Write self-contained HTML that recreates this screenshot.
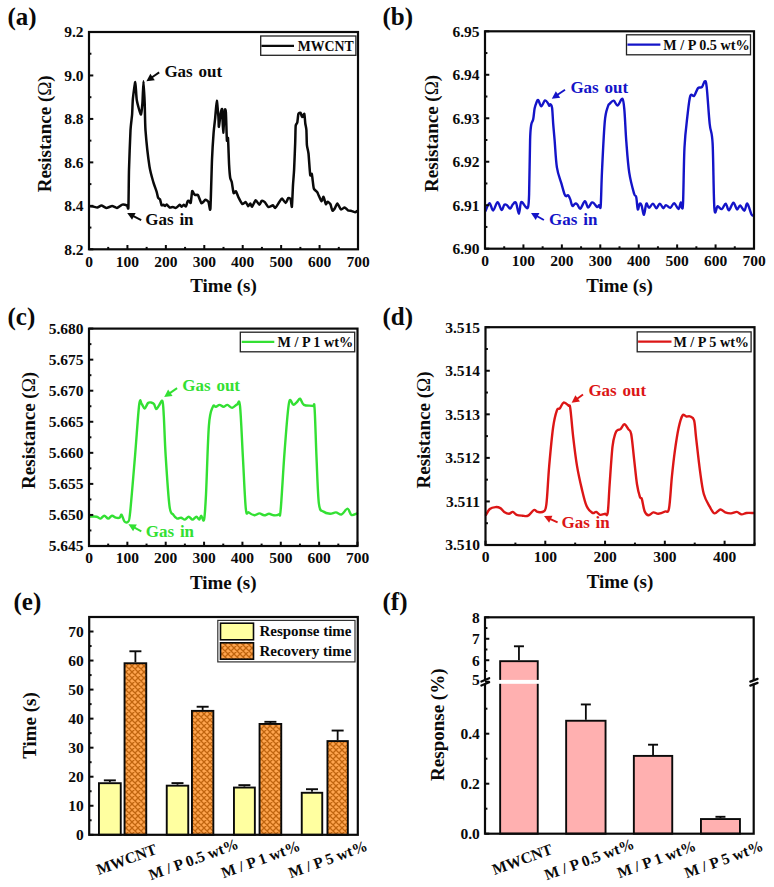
<!DOCTYPE html>
<html><head><meta charset="utf-8"><title>Figure</title>
<style>
html,body{margin:0;padding:0;background:#fff;}
body{width:774px;height:887px;overflow:hidden;}
svg{display:block;font-family:"Liberation Serif", serif;font-weight:bold;}
</style></head><body>
<svg width="774" height="887" viewBox="0 0 774 887">
<defs>
<pattern id="hatch" patternUnits="userSpaceOnUse" width="6" height="6">
<rect width="6" height="6" fill="#ffa54f"/>
<path d="M-1.5,1.5 L1.5,-1.5 M0,6 L6,0 M4.5,7.5 L7.5,4.5 M-1.5,4.5 L1.5,7.5 M0,0 L6,6 M4.5,-1.5 L7.5,1.5" stroke="#c0650f" stroke-width="1.3"/>
</pattern>
</defs>
<rect width="774" height="887" fill="#fff"/>
<text x="7.5" y="25.2" font-size="25" text-anchor="start" fill="#0a0a0a">(a)</text>
<text x="382.5" y="25.2" font-size="25" text-anchor="start" fill="#0a0a0a">(b)</text>
<text x="7.5" y="325.2" font-size="25" text-anchor="start" fill="#0a0a0a">(c)</text>
<text x="382.5" y="324.8" font-size="25" text-anchor="start" fill="#0a0a0a">(d)</text>
<text x="13.5" y="610.2" font-size="25" text-anchor="start" fill="#0a0a0a">(e)</text>
<text x="382.5" y="610.2" font-size="25" text-anchor="start" fill="#0a0a0a">(f)</text>
<path d="M89.5,206.3 C89.85,206.32 92.22,206.37 93,206.5 C93.78,206.63 96.45,207.7 97.3,207.6 C98.15,207.5 100.61,205.47 101.5,205.5 C102.39,205.53 105.13,207.84 106.2,207.9 C107.27,207.96 111.13,206.1 112.2,206.1 C113.27,206.1 115.89,208.05 116.9,207.9 C117.91,207.75 121.29,204.84 122.3,204.6 C123.31,204.36 126.39,205.23 127,205.5 C127.61,205.77 128.2,210.88 128.4,207.3 C128.6,203.72 128.79,177.4 129,169.7 C129.21,162 130.19,135.82 130.5,130.3 C130.81,124.78 131.86,117.66 132.1,114.5 C132.34,111.34 132.58,101.94 132.9,98.7 C133.22,95.46 134.91,81.94 135.3,82.1 C135.69,82.26 136.25,97.06 136.8,100.3 C137.35,103.54 140.24,114.19 140.8,114.5 C141.36,114.81 142.13,106.72 142.4,103.4 C142.67,100.08 143.27,81.3 143.5,81.3 C143.73,81.3 144.5,98.5 144.7,103.4 C144.9,108.3 145.02,123.98 145.5,130.3 C145.98,136.62 148.71,161.39 149.5,166.6 C150.29,171.81 152.69,179.9 153.4,182.4 C154.11,184.9 156.13,190.06 156.6,191.6 C157.07,193.14 157.76,197.02 158.1,197.8 C158.44,198.58 159.65,198.66 160,199.4 C160.35,200.14 161.25,204.66 161.6,205.2 C161.95,205.74 163.15,204.72 163.5,204.8 C163.85,204.88 164.79,206.04 165.1,206 C165.41,205.96 166.14,204.25 166.6,204.4 C167.06,204.55 169.08,207.23 169.7,207.5 C170.32,207.77 172.18,207.06 172.8,207.1 C173.42,207.14 175.2,208.13 175.9,207.9 C176.6,207.67 179.22,204.92 179.8,204.8 C180.38,204.68 181.31,206.7 181.7,206.7 C182.09,206.7 183.27,204.83 183.7,204.8 C184.13,204.77 185.61,206.75 186,206.4 C186.39,206.05 187.29,201.85 187.6,201.3 C187.91,200.75 188.79,200.74 189.1,200.9 C189.41,201.06 190.39,203.87 190.7,202.9 C191.01,201.93 191.89,192.13 192.2,191.2 C192.51,190.27 193.49,193.21 193.8,193.6 C194.11,193.99 194.88,194.95 195.3,195.1 C195.72,195.25 197.38,194.28 198,195.1 C198.62,195.92 200.76,202.83 201.5,203.3 C202.24,203.77 204.7,199.92 205.4,199.8 C206.1,199.68 208,201.21 208.5,202.1 C209,202.99 210.05,212.95 210.4,208.7 C210.75,204.45 211.68,167.19 212,159.6 C212.32,152.01 213.28,136.98 213.6,132.8 C213.92,128.62 214.88,121.01 215.2,117.8 C215.52,114.59 216.48,100.8 216.8,100.7 C217.12,100.6 218.19,114.18 218.4,116.8 C218.61,119.42 218.69,127.12 218.9,126.9 C219.11,126.68 220.18,116.36 220.5,114.6 C220.82,112.84 221.83,107.48 222.1,109.3 C222.37,111.12 222.93,132.7 223.2,132.8 C223.47,132.9 224.53,112.33 224.8,110.3 C225.07,108.27 225.69,109.5 225.9,112.5 C226.11,115.5 226.69,137.73 226.9,140.3 C227.11,142.87 227.78,135.74 228,138.2 C228.22,140.66 228.88,160.94 229.1,164.9 C229.32,168.86 229.93,176.07 230.2,177.8 C230.47,179.53 231.46,180.67 231.8,182.2 C232.14,183.73 233.19,192.19 233.6,193.1 C234.01,194.01 235.4,190.85 235.9,191.3 C236.4,191.75 237.97,196.34 238.6,197.6 C239.23,198.86 241.48,203.45 242.2,203.9 C242.92,204.35 245.21,201.87 245.8,202.1 C246.39,202.33 247.65,206.06 248.1,206.2 C248.55,206.34 249.9,203.45 250.3,203.5 C250.7,203.55 251.56,207.02 252.1,206.7 C252.64,206.38 254.97,200.49 255.7,200.3 C256.43,200.11 258.81,204.75 259.4,204.8 C259.99,204.85 261.06,201.07 261.6,200.8 C262.14,200.53 264.12,201.47 264.8,202.1 C265.48,202.73 267.59,206.78 268.4,207.1 C269.21,207.42 272.22,205.21 272.9,205.3 C273.58,205.39 274.56,208.32 275.2,208 C275.84,207.68 278.62,203.05 279.3,202.1 C279.98,201.15 281.37,198.41 282,198.5 C282.63,198.59 284.97,203.04 285.6,203 C286.23,202.96 287.8,198.5 288.3,198.1 C288.8,197.7 290.24,198.14 290.6,199 C290.96,199.86 291.66,208.1 291.9,206.7 C292.14,205.3 292.78,188.71 293,185 C293.22,181.29 293.88,173.82 294.1,169.6 C294.32,165.38 295.04,147.19 295.2,142.8 C295.36,138.41 295.49,127.73 295.7,125.7 C295.91,123.67 297.03,123.68 297.3,122.5 C297.57,121.32 298.08,114.87 298.4,113.9 C298.72,112.93 300.13,112.48 300.5,112.8 C300.87,113.12 301.72,116.99 302.1,117.1 C302.48,117.21 303.98,113.26 304.3,113.9 C304.62,114.54 305.09,121.89 305.3,123.5 C305.51,125.11 306.24,127.85 306.4,130 C306.56,132.15 306.69,142.65 306.9,145 C307.11,147.35 308.17,150.51 308.5,153.5 C308.83,156.49 309.87,172.86 310.2,174.9 C310.53,176.94 311.54,173.26 311.8,173.9 C312.06,174.54 312.59,179.81 312.8,181.3 C313.01,182.79 313.47,187.73 313.9,188.8 C314.33,189.87 316.63,191.36 317.1,192 C317.57,192.64 318.16,194.27 318.6,195.2 C319.04,196.13 321.01,201.13 321.5,201.3 C321.99,201.47 323.06,196.61 323.5,196.9 C323.94,197.19 325.49,203.72 325.9,204.2 C326.31,204.68 327.15,201.7 327.6,201.7 C328.05,201.7 329.92,203.3 330.4,204.2 C330.88,205.1 331.95,210.29 332.4,210.7 C332.85,211.11 334.41,209.03 334.9,208.3 C335.39,207.57 336.69,203.28 337.3,203.4 C337.91,203.52 340.27,209.1 341,209.5 C341.73,209.9 343.91,207.32 344.6,207.4 C345.29,207.48 347.16,209.93 347.9,210.3 C348.64,210.67 351.27,210.9 352,211.1 C352.73,211.3 354.7,212.31 355.2,212.3 C355.7,212.29 356.82,211.13 357,211" fill="none" stroke="#0a0a0a" stroke-width="2.5" stroke-linejoin="round" stroke-linecap="round"/>
<rect x="89" y="32" width="269" height="217.3" fill="none" stroke="#0a0a0a" stroke-width="2.2"/>
<line x1="89" y1="249.3" x2="93.3" y2="249.3" stroke="#0a0a0a" stroke-width="2.0"/>
<line x1="89" y1="205.84" x2="93.3" y2="205.84" stroke="#0a0a0a" stroke-width="2.0"/>
<line x1="89" y1="162.38" x2="93.3" y2="162.38" stroke="#0a0a0a" stroke-width="2.0"/>
<line x1="89" y1="118.92" x2="93.3" y2="118.92" stroke="#0a0a0a" stroke-width="2.0"/>
<line x1="89" y1="75.46" x2="93.3" y2="75.46" stroke="#0a0a0a" stroke-width="2.0"/>
<line x1="89" y1="32" x2="93.3" y2="32" stroke="#0a0a0a" stroke-width="2.0"/>
<line x1="89" y1="227.57" x2="91.4" y2="227.57" stroke="#0a0a0a" stroke-width="2.0"/>
<line x1="89" y1="184.11" x2="91.4" y2="184.11" stroke="#0a0a0a" stroke-width="2.0"/>
<line x1="89" y1="140.65" x2="91.4" y2="140.65" stroke="#0a0a0a" stroke-width="2.0"/>
<line x1="89" y1="97.19" x2="91.4" y2="97.19" stroke="#0a0a0a" stroke-width="2.0"/>
<line x1="89" y1="53.73" x2="91.4" y2="53.73" stroke="#0a0a0a" stroke-width="2.0"/>
<text x="83.5" y="254.6" font-size="15.5" text-anchor="end" fill="#0a0a0a">8.2</text>
<text x="83.5" y="211.14" font-size="15.5" text-anchor="end" fill="#0a0a0a">8.4</text>
<text x="83.5" y="167.68" font-size="15.5" text-anchor="end" fill="#0a0a0a">8.6</text>
<text x="83.5" y="124.22" font-size="15.5" text-anchor="end" fill="#0a0a0a">8.8</text>
<text x="83.5" y="80.76" font-size="15.5" text-anchor="end" fill="#0a0a0a">9.0</text>
<text x="83.5" y="37.3" font-size="15.5" text-anchor="end" fill="#0a0a0a">9.2</text>
<line x1="89" y1="249.3" x2="89" y2="245" stroke="#0a0a0a" stroke-width="2.0"/>
<line x1="127.43" y1="249.3" x2="127.43" y2="245" stroke="#0a0a0a" stroke-width="2.0"/>
<line x1="165.86" y1="249.3" x2="165.86" y2="245" stroke="#0a0a0a" stroke-width="2.0"/>
<line x1="204.29" y1="249.3" x2="204.29" y2="245" stroke="#0a0a0a" stroke-width="2.0"/>
<line x1="242.71" y1="249.3" x2="242.71" y2="245" stroke="#0a0a0a" stroke-width="2.0"/>
<line x1="281.14" y1="249.3" x2="281.14" y2="245" stroke="#0a0a0a" stroke-width="2.0"/>
<line x1="319.57" y1="249.3" x2="319.57" y2="245" stroke="#0a0a0a" stroke-width="2.0"/>
<line x1="358" y1="249.3" x2="358" y2="245" stroke="#0a0a0a" stroke-width="2.0"/>
<line x1="108.21" y1="249.3" x2="108.21" y2="246.9" stroke="#0a0a0a" stroke-width="2.0"/>
<line x1="146.64" y1="249.3" x2="146.64" y2="246.9" stroke="#0a0a0a" stroke-width="2.0"/>
<line x1="185.07" y1="249.3" x2="185.07" y2="246.9" stroke="#0a0a0a" stroke-width="2.0"/>
<line x1="223.5" y1="249.3" x2="223.5" y2="246.9" stroke="#0a0a0a" stroke-width="2.0"/>
<line x1="261.93" y1="249.3" x2="261.93" y2="246.9" stroke="#0a0a0a" stroke-width="2.0"/>
<line x1="300.36" y1="249.3" x2="300.36" y2="246.9" stroke="#0a0a0a" stroke-width="2.0"/>
<line x1="338.79" y1="249.3" x2="338.79" y2="246.9" stroke="#0a0a0a" stroke-width="2.0"/>
<text x="89" y="266.5" font-size="15.5" text-anchor="middle" fill="#0a0a0a">0</text>
<text x="127.43" y="266.5" font-size="15.5" text-anchor="middle" fill="#0a0a0a">100</text>
<text x="165.86" y="266.5" font-size="15.5" text-anchor="middle" fill="#0a0a0a">200</text>
<text x="204.29" y="266.5" font-size="15.5" text-anchor="middle" fill="#0a0a0a">300</text>
<text x="242.71" y="266.5" font-size="15.5" text-anchor="middle" fill="#0a0a0a">400</text>
<text x="281.14" y="266.5" font-size="15.5" text-anchor="middle" fill="#0a0a0a">500</text>
<text x="319.57" y="266.5" font-size="15.5" text-anchor="middle" fill="#0a0a0a">600</text>
<text x="358" y="266.5" font-size="15.5" text-anchor="middle" fill="#0a0a0a">700</text>
<text x="223.5" y="292.3" font-size="19" text-anchor="middle" fill="#0a0a0a">Time (s)</text>
<text transform="translate(50.7,133.8) rotate(-90)" font-size="19" text-anchor="middle" fill="#0a0a0a">Resistance (<tspan font-weight="normal">Ω</tspan>)</text>
<rect x="260.7" y="36" width="95.2" height="19.3" fill="#fff" stroke="#222" stroke-width="1.3"/>
<line x1="261.4" y1="45.9" x2="294" y2="45.9" stroke="#0a0a0a" stroke-width="2.2"/>
<text x="297.8" y="51" font-size="13.8" text-anchor="start" fill="#0a0a0a">MWCNT</text>
<text x="164.4" y="76.5" font-size="17" text-anchor="start" fill="#0a0a0a" word-spacing="1.5">Gas out</text>
<line x1="159.2" y1="72.4" x2="151.76" y2="77.52" stroke="#0a0a0a" stroke-width="1.9"/>
<polygon points="146.4,81.2 150.37,73.74 154.79,80.16" fill="#0a0a0a"/>
<text x="145.3" y="225.3" font-size="17" text-anchor="start" fill="#0a0a0a" word-spacing="1.5">Gas in</text>
<line x1="141.2" y1="220.2" x2="132.96" y2="215.91" stroke="#0a0a0a" stroke-width="1.9"/>
<polygon points="127.2,212.9 135.65,212.91 132.05,219.83" fill="#0a0a0a"/>
<path d="M485.5,211 C486.17,209.68 488.23,203.18 489.5,203.1 C490.77,203.02 491.75,210.67 493.1,210.5 C494.45,210.33 496.2,202.2 497.6,202.1 C499,202 500.37,209.47 501.5,209.9 C502.63,210.33 503.48,205.47 504.4,204.7 C505.32,203.93 506.03,204.65 507,205.3 C507.97,205.95 509.23,208.75 510.2,208.6 C511.17,208.45 511.83,205.37 512.8,204.4 C513.77,203.43 514.98,201.25 516,202.8 C517.02,204.35 518.03,213.82 518.9,213.7 C519.77,213.58 520.07,203.22 521.2,202.1 C522.33,200.98 524.57,206.13 525.7,207 C526.83,207.87 527.43,209.43 528,207.3 C528.57,205.17 528.75,205.42 529.1,194.2 C529.45,182.98 529.75,151.53 530.1,140 C530.45,128.47 530.68,128.45 531.2,125 C531.72,121.55 532.63,122.03 533.2,119.3 C533.77,116.57 534.08,111.32 534.6,108.6 C535.12,105.88 535.7,104.42 536.3,103 C536.9,101.58 537.37,99.55 538.2,100.1 C539.03,100.65 540.17,106.25 541.3,106.3 C542.43,106.35 543.87,100.87 545,100.4 C546.13,99.93 547.4,102.6 548.1,103.5 C548.8,104.4 548.78,105.65 549.2,105.8 C549.62,105.95 550.12,104.03 550.6,104.4 C551.08,104.77 551.67,104.77 552.1,108 C552.53,111.23 552.78,118.47 553.2,123.8 C553.62,129.13 553.98,132.73 554.6,140 C555.22,147.27 555.78,160.2 556.9,167.4 C558.02,174.6 560.03,178.73 561.3,183.2 C562.57,187.67 563.7,192.03 564.5,194.2 C565.3,196.37 565.5,196.03 566.1,196.2 C566.7,196.37 567.4,194.67 568.1,195.2 C568.8,195.73 569.6,197.63 570.3,199.4 C571,201.17 571.48,205.1 572.3,205.8 C573.12,206.5 574.35,203.82 575.2,203.6 C576.05,203.38 576.55,203.65 577.4,204.5 C578.25,205.35 579.05,209.23 580.3,208.7 C581.55,208.17 583.6,201.5 584.9,201.3 C586.2,201.1 586.97,207.28 588.1,207.5 C589.23,207.72 590.68,203.25 591.7,202.6 C592.72,201.95 593.3,202.85 594.2,203.6 C595.1,204.35 596.28,206.83 597.1,207.1 C597.92,207.37 598.5,205.42 599.1,205.2 C599.7,204.98 600.22,211.47 600.7,205.8 C601.18,200.13 601.32,185.27 602,171.2 C602.68,157.13 603.82,132.18 604.8,121.4 C605.78,110.62 607.07,109.47 607.9,106.5 C608.73,103.53 608.83,104.57 609.8,103.6 C610.77,102.63 612.4,100.38 613.7,100.7 C615,101.02 616.15,105.82 617.6,105.5 C619.05,105.18 621.27,97.98 622.4,98.8 C623.53,99.62 623.75,103.3 624.4,110.4 C625.05,117.5 625.5,131.07 626.3,141.4 C627.1,151.73 627.9,163.68 629.2,172.4 C630.5,181.12 632.93,189.6 634.1,193.7 C635.27,197.8 635.58,194.38 636.2,197 C636.82,199.62 637.22,208.3 637.8,209.4 C638.38,210.5 639.07,204.25 639.7,203.6 C640.33,202.95 640.88,203.63 641.6,205.5 C642.32,207.37 643.22,215.12 644,214.8 C644.78,214.48 645.47,204.77 646.3,203.6 C647.13,202.43 647.9,207.8 649,207.8 C650.1,207.8 651.67,203.53 652.9,203.6 C654.13,203.67 655.25,208.2 656.4,208.2 C657.55,208.2 658.65,203.6 659.8,203.6 C660.95,203.6 662.27,207.95 663.3,208.2 C664.33,208.45 664.83,205.17 666,205.1 C667.17,205.03 668.93,208.12 670.3,207.8 C671.67,207.48 672.85,203 674.2,203.2 C675.55,203.4 677.3,209.13 678.4,209 C679.5,208.87 680.22,202.6 680.8,202.4 C681.38,202.2 681.52,207.93 681.9,207.8 C682.28,207.67 682.67,211.7 683.1,201.6 C683.53,191.5 683.78,161.43 684.5,147.2 C685.22,132.97 686.43,124.75 687.4,116.2 C688.37,107.65 689.18,99.28 690.3,95.9 C691.42,92.52 692.82,97.2 694.1,95.9 C695.38,94.6 696.7,89.57 698,88.1 C699.3,86.63 700.77,88.23 701.9,87.1 C703.03,85.97 704,81.3 704.8,81.3 C705.6,81.3 705.88,79.98 706.7,87.1 C707.52,94.22 708.72,114.63 709.7,124 C710.68,133.37 711.82,129.23 712.6,143.3 C713.38,157.37 713.57,197.92 714.4,208.4 C715.23,218.88 716.37,206.08 717.6,206.2 C718.83,206.32 720.45,209.53 721.8,209.1 C723.15,208.67 724.52,203.4 725.7,203.6 C726.88,203.8 727.62,210.47 728.9,210.3 C730.18,210.13 732.05,202.75 733.4,202.6 C734.75,202.45 735.87,208.92 737,209.4 C738.13,209.88 738.97,205.28 740.2,205.5 C741.43,205.72 743.22,211.02 744.4,210.7 C745.58,210.38 746.12,202.97 747.3,203.6 C748.48,204.23 750.47,212.55 751.5,214.5 C752.53,216.45 753.17,215.17 753.5,215.3" fill="none" stroke="#1414c8" stroke-width="2.4" stroke-linejoin="round" stroke-linecap="round"/>
<rect x="485" y="31.3" width="269" height="217.4" fill="none" stroke="#0a0a0a" stroke-width="2.2"/>
<line x1="485" y1="248.7" x2="489.3" y2="248.7" stroke="#0a0a0a" stroke-width="2.0"/>
<line x1="485" y1="205.22" x2="489.3" y2="205.22" stroke="#0a0a0a" stroke-width="2.0"/>
<line x1="485" y1="161.74" x2="489.3" y2="161.74" stroke="#0a0a0a" stroke-width="2.0"/>
<line x1="485" y1="118.26" x2="489.3" y2="118.26" stroke="#0a0a0a" stroke-width="2.0"/>
<line x1="485" y1="74.78" x2="489.3" y2="74.78" stroke="#0a0a0a" stroke-width="2.0"/>
<line x1="485" y1="31.3" x2="489.3" y2="31.3" stroke="#0a0a0a" stroke-width="2.0"/>
<line x1="485" y1="226.96" x2="487.4" y2="226.96" stroke="#0a0a0a" stroke-width="2.0"/>
<line x1="485" y1="183.48" x2="487.4" y2="183.48" stroke="#0a0a0a" stroke-width="2.0"/>
<line x1="485" y1="140" x2="487.4" y2="140" stroke="#0a0a0a" stroke-width="2.0"/>
<line x1="485" y1="96.52" x2="487.4" y2="96.52" stroke="#0a0a0a" stroke-width="2.0"/>
<line x1="485" y1="53.04" x2="487.4" y2="53.04" stroke="#0a0a0a" stroke-width="2.0"/>
<text x="479.5" y="254" font-size="15.5" text-anchor="end" fill="#0a0a0a">6.90</text>
<text x="479.5" y="210.52" font-size="15.5" text-anchor="end" fill="#0a0a0a">6.91</text>
<text x="479.5" y="167.04" font-size="15.5" text-anchor="end" fill="#0a0a0a">6.92</text>
<text x="479.5" y="123.56" font-size="15.5" text-anchor="end" fill="#0a0a0a">6.93</text>
<text x="479.5" y="80.08" font-size="15.5" text-anchor="end" fill="#0a0a0a">6.94</text>
<text x="479.5" y="36.6" font-size="15.5" text-anchor="end" fill="#0a0a0a">6.95</text>
<line x1="485" y1="248.7" x2="485" y2="244.4" stroke="#0a0a0a" stroke-width="2.0"/>
<line x1="523.43" y1="248.7" x2="523.43" y2="244.4" stroke="#0a0a0a" stroke-width="2.0"/>
<line x1="561.86" y1="248.7" x2="561.86" y2="244.4" stroke="#0a0a0a" stroke-width="2.0"/>
<line x1="600.29" y1="248.7" x2="600.29" y2="244.4" stroke="#0a0a0a" stroke-width="2.0"/>
<line x1="638.71" y1="248.7" x2="638.71" y2="244.4" stroke="#0a0a0a" stroke-width="2.0"/>
<line x1="677.14" y1="248.7" x2="677.14" y2="244.4" stroke="#0a0a0a" stroke-width="2.0"/>
<line x1="715.57" y1="248.7" x2="715.57" y2="244.4" stroke="#0a0a0a" stroke-width="2.0"/>
<line x1="754" y1="248.7" x2="754" y2="244.4" stroke="#0a0a0a" stroke-width="2.0"/>
<line x1="504.21" y1="248.7" x2="504.21" y2="246.3" stroke="#0a0a0a" stroke-width="2.0"/>
<line x1="542.64" y1="248.7" x2="542.64" y2="246.3" stroke="#0a0a0a" stroke-width="2.0"/>
<line x1="581.07" y1="248.7" x2="581.07" y2="246.3" stroke="#0a0a0a" stroke-width="2.0"/>
<line x1="619.5" y1="248.7" x2="619.5" y2="246.3" stroke="#0a0a0a" stroke-width="2.0"/>
<line x1="657.93" y1="248.7" x2="657.93" y2="246.3" stroke="#0a0a0a" stroke-width="2.0"/>
<line x1="696.36" y1="248.7" x2="696.36" y2="246.3" stroke="#0a0a0a" stroke-width="2.0"/>
<line x1="734.79" y1="248.7" x2="734.79" y2="246.3" stroke="#0a0a0a" stroke-width="2.0"/>
<text x="485" y="265.9" font-size="15.5" text-anchor="middle" fill="#0a0a0a">0</text>
<text x="523.43" y="265.9" font-size="15.5" text-anchor="middle" fill="#0a0a0a">100</text>
<text x="561.86" y="265.9" font-size="15.5" text-anchor="middle" fill="#0a0a0a">200</text>
<text x="600.29" y="265.9" font-size="15.5" text-anchor="middle" fill="#0a0a0a">300</text>
<text x="638.71" y="265.9" font-size="15.5" text-anchor="middle" fill="#0a0a0a">400</text>
<text x="677.14" y="265.9" font-size="15.5" text-anchor="middle" fill="#0a0a0a">500</text>
<text x="715.57" y="265.9" font-size="15.5" text-anchor="middle" fill="#0a0a0a">600</text>
<text x="754" y="265.9" font-size="15.5" text-anchor="middle" fill="#0a0a0a">700</text>
<text x="619.5" y="291.7" font-size="19" text-anchor="middle" fill="#0a0a0a">Time (s)</text>
<text transform="translate(438,133.4) rotate(-90)" font-size="19" text-anchor="middle" fill="#0a0a0a">Resistance (<tspan font-weight="normal">Ω</tspan>)</text>
<rect x="626.5" y="34.8" width="124" height="20" fill="#fff" stroke="#222" stroke-width="1.3"/>
<line x1="627.4" y1="44.6" x2="660.4" y2="44.6" stroke="#1414c8" stroke-width="2.2"/>
<text x="663.3" y="50.2" font-size="14.2" text-anchor="start" fill="#0a0a0a">M / P 0.5 wt%</text>
<text x="570.4" y="93.3" font-size="17" text-anchor="start" fill="#1414c8" word-spacing="1.5">Gas out</text>
<line x1="565" y1="89.8" x2="557.19" y2="95.07" stroke="#1414c8" stroke-width="1.9"/>
<polygon points="551.8,98.7 555.84,91.27 560.2,97.74" fill="#1414c8"/>
<text x="549.1" y="225.2" font-size="17" text-anchor="start" fill="#1414c8" word-spacing="1.5">Gas in</text>
<line x1="543.9" y1="220" x2="536.69" y2="216.03" stroke="#1414c8" stroke-width="1.9"/>
<polygon points="531,212.9 539.45,213.1 535.69,219.93" fill="#1414c8"/>
<path d="M89.5,516.7 C90.7,516.7 94.87,516.38 96.7,516.7 C98.53,517.02 99.23,518.77 100.5,518.6 C101.77,518.43 103.02,515.7 104.3,515.7 C105.58,515.7 106.92,518.6 108.2,518.6 C109.48,518.6 110.73,515.85 112,515.7 C113.27,515.55 114.52,517.37 115.8,517.7 C117.08,518.03 118.73,518.18 119.7,517.7 C120.67,517.22 120.8,514.17 121.6,514.8 C122.4,515.43 123.38,520.38 124.5,521.5 C125.62,522.62 127.35,523.1 128.3,521.5 C129.25,519.9 129.08,522.77 130.2,511.9 C131.32,501.03 133.5,474.2 135,456.3 C136.5,438.4 138.08,413.22 139.2,404.5 C140.32,395.78 140.8,403.33 141.7,404 C142.6,404.67 143.55,408.67 144.6,408.5 C145.65,408.33 146.93,404 148,403 C149.07,402 150,402.33 151,402.5 C152,402.67 153.15,402.92 154,404 C154.85,405.08 155.27,408.75 156.1,409 C156.93,409.25 157.95,406.83 159,405.5 C160.05,404.17 161.6,399.25 162.4,401 C163.2,402.75 163.25,406.78 163.8,416 C164.35,425.22 164.75,441.28 165.7,456.3 C166.65,471.32 168.22,496.35 169.5,506.1 C170.78,515.85 172.12,512.72 173.4,514.8 C174.68,516.88 175.93,518.12 177.2,518.6 C178.47,519.08 179.72,517.53 181,517.7 C182.28,517.87 183.62,519.77 184.9,519.6 C186.18,519.43 187.43,516.7 188.7,516.7 C189.97,516.7 191.22,519.6 192.5,519.6 C193.78,519.6 195.27,516.7 196.4,516.7 C197.53,516.7 198.5,519.77 199.3,519.6 C200.1,519.43 200.4,515.7 201.2,515.7 C202,515.7 203.3,523.12 204.1,519.6 C204.9,516.08 205.2,510.27 206,494.6 C206.8,478.93 207.77,440.23 208.9,425.6 C210.03,410.97 211.65,409.93 212.8,406.8 C213.95,403.67 214.67,407.12 215.8,406.8 C216.93,406.48 218.32,404.9 219.6,404.9 C220.88,404.9 222.2,406.8 223.5,406.8 C224.8,406.8 225.95,404.73 227.4,404.9 C228.85,405.07 230.58,407.87 232.2,407.8 C233.82,407.73 235.8,404.82 237.1,404.5 C238.4,404.18 239.03,397.12 240,405.9 C240.97,414.68 241.93,440.08 242.9,457.2 C243.87,474.32 244.83,499.4 245.8,508.6 C246.77,517.8 247.25,511.28 248.7,512.4 C250.15,513.52 252.72,515.13 254.5,515.3 C256.28,515.47 257.78,513.4 259.4,513.4 C261.02,513.4 262.6,515.23 264.2,515.3 C265.8,515.37 267.38,513.8 269,513.8 C270.62,513.8 272.28,515.2 273.9,515.3 C275.52,515.4 277.57,515.37 278.7,514.4 C279.83,513.43 279.72,520 280.7,509.5 C281.68,499 283.22,469.17 284.6,451.4 C285.98,433.63 287.55,410.65 289,402.9 C290.45,395.15 291.97,405.05 293.3,404.9 C294.63,404.75 295.87,403.03 297,402 C298.13,400.97 298.95,398.22 300.1,398.7 C301.25,399.18 301.8,403.7 303.9,404.9 C306,406.1 310.92,405.25 312.7,405.9 C314.48,406.55 313.97,400.25 314.6,408.8 C315.23,417.35 315.78,441.38 316.5,457.2 C317.22,473.02 317.77,494.65 318.9,503.7 C320.03,512.75 321.43,509.82 323.3,511.5 C325.17,513.18 328,513.65 330.1,513.8 C332.2,513.95 333.97,512.3 335.9,512.4 C337.83,512.5 339.77,515.03 341.7,514.4 C343.63,513.77 345.88,508.5 347.5,508.6 C349.12,508.7 349.82,514.2 351.4,515 C352.98,515.8 356.07,513.67 357,513.4" fill="none" stroke="#33e033" stroke-width="2.4" stroke-linejoin="round" stroke-linecap="round"/>
<rect x="89" y="328.6" width="268.5" height="217.4" fill="none" stroke="#0a0a0a" stroke-width="2.2"/>
<line x1="89" y1="546" x2="93.3" y2="546" stroke="#0a0a0a" stroke-width="2.0"/>
<line x1="89" y1="514.94" x2="93.3" y2="514.94" stroke="#0a0a0a" stroke-width="2.0"/>
<line x1="89" y1="483.89" x2="93.3" y2="483.89" stroke="#0a0a0a" stroke-width="2.0"/>
<line x1="89" y1="452.83" x2="93.3" y2="452.83" stroke="#0a0a0a" stroke-width="2.0"/>
<line x1="89" y1="421.77" x2="93.3" y2="421.77" stroke="#0a0a0a" stroke-width="2.0"/>
<line x1="89" y1="390.71" x2="93.3" y2="390.71" stroke="#0a0a0a" stroke-width="2.0"/>
<line x1="89" y1="359.66" x2="93.3" y2="359.66" stroke="#0a0a0a" stroke-width="2.0"/>
<line x1="89" y1="328.6" x2="93.3" y2="328.6" stroke="#0a0a0a" stroke-width="2.0"/>
<line x1="89" y1="530.47" x2="91.4" y2="530.47" stroke="#0a0a0a" stroke-width="2.0"/>
<line x1="89" y1="499.41" x2="91.4" y2="499.41" stroke="#0a0a0a" stroke-width="2.0"/>
<line x1="89" y1="468.36" x2="91.4" y2="468.36" stroke="#0a0a0a" stroke-width="2.0"/>
<line x1="89" y1="437.3" x2="91.4" y2="437.3" stroke="#0a0a0a" stroke-width="2.0"/>
<line x1="89" y1="406.24" x2="91.4" y2="406.24" stroke="#0a0a0a" stroke-width="2.0"/>
<line x1="89" y1="375.19" x2="91.4" y2="375.19" stroke="#0a0a0a" stroke-width="2.0"/>
<line x1="89" y1="344.13" x2="91.4" y2="344.13" stroke="#0a0a0a" stroke-width="2.0"/>
<text x="83.5" y="551.3" font-size="15.5" text-anchor="end" fill="#0a0a0a">5.645</text>
<text x="83.5" y="520.24" font-size="15.5" text-anchor="end" fill="#0a0a0a">5.650</text>
<text x="83.5" y="489.19" font-size="15.5" text-anchor="end" fill="#0a0a0a">5.655</text>
<text x="83.5" y="458.13" font-size="15.5" text-anchor="end" fill="#0a0a0a">5.660</text>
<text x="83.5" y="427.07" font-size="15.5" text-anchor="end" fill="#0a0a0a">5.665</text>
<text x="83.5" y="396.01" font-size="15.5" text-anchor="end" fill="#0a0a0a">5.670</text>
<text x="83.5" y="364.96" font-size="15.5" text-anchor="end" fill="#0a0a0a">5.675</text>
<text x="83.5" y="333.9" font-size="15.5" text-anchor="end" fill="#0a0a0a">5.680</text>
<line x1="89" y1="546" x2="89" y2="541.7" stroke="#0a0a0a" stroke-width="2.0"/>
<line x1="127.36" y1="546" x2="127.36" y2="541.7" stroke="#0a0a0a" stroke-width="2.0"/>
<line x1="165.71" y1="546" x2="165.71" y2="541.7" stroke="#0a0a0a" stroke-width="2.0"/>
<line x1="204.07" y1="546" x2="204.07" y2="541.7" stroke="#0a0a0a" stroke-width="2.0"/>
<line x1="242.43" y1="546" x2="242.43" y2="541.7" stroke="#0a0a0a" stroke-width="2.0"/>
<line x1="280.79" y1="546" x2="280.79" y2="541.7" stroke="#0a0a0a" stroke-width="2.0"/>
<line x1="319.14" y1="546" x2="319.14" y2="541.7" stroke="#0a0a0a" stroke-width="2.0"/>
<line x1="357.5" y1="546" x2="357.5" y2="541.7" stroke="#0a0a0a" stroke-width="2.0"/>
<line x1="108.18" y1="546" x2="108.18" y2="543.6" stroke="#0a0a0a" stroke-width="2.0"/>
<line x1="146.54" y1="546" x2="146.54" y2="543.6" stroke="#0a0a0a" stroke-width="2.0"/>
<line x1="184.89" y1="546" x2="184.89" y2="543.6" stroke="#0a0a0a" stroke-width="2.0"/>
<line x1="223.25" y1="546" x2="223.25" y2="543.6" stroke="#0a0a0a" stroke-width="2.0"/>
<line x1="261.61" y1="546" x2="261.61" y2="543.6" stroke="#0a0a0a" stroke-width="2.0"/>
<line x1="299.96" y1="546" x2="299.96" y2="543.6" stroke="#0a0a0a" stroke-width="2.0"/>
<line x1="338.32" y1="546" x2="338.32" y2="543.6" stroke="#0a0a0a" stroke-width="2.0"/>
<text x="89" y="563.2" font-size="15.5" text-anchor="middle" fill="#0a0a0a">0</text>
<text x="127.36" y="563.2" font-size="15.5" text-anchor="middle" fill="#0a0a0a">100</text>
<text x="165.71" y="563.2" font-size="15.5" text-anchor="middle" fill="#0a0a0a">200</text>
<text x="204.07" y="563.2" font-size="15.5" text-anchor="middle" fill="#0a0a0a">300</text>
<text x="242.43" y="563.2" font-size="15.5" text-anchor="middle" fill="#0a0a0a">400</text>
<text x="280.79" y="563.2" font-size="15.5" text-anchor="middle" fill="#0a0a0a">500</text>
<text x="319.14" y="563.2" font-size="15.5" text-anchor="middle" fill="#0a0a0a">600</text>
<text x="357.5" y="563.2" font-size="15.5" text-anchor="middle" fill="#0a0a0a">700</text>
<text x="223.25" y="589" font-size="19" text-anchor="middle" fill="#0a0a0a">Time (s)</text>
<text transform="translate(34.8,430.4) rotate(-90)" font-size="19" text-anchor="middle" fill="#0a0a0a">Resistance (<tspan font-weight="normal">Ω</tspan>)</text>
<rect x="240.3" y="332.2" width="114.4" height="19.6" fill="#fff" stroke="#222" stroke-width="1.3"/>
<line x1="241.7" y1="341.8" x2="274.3" y2="341.8" stroke="#33e033" stroke-width="2.2"/>
<text x="277.5" y="347" font-size="14.2" text-anchor="start" fill="#0a0a0a">M / P 1 wt%</text>
<text x="182.3" y="391.3" font-size="17" text-anchor="start" fill="#33e033" word-spacing="1.5">Gas out</text>
<line x1="177.1" y1="388.1" x2="169.53" y2="393.38" stroke="#33e033" stroke-width="1.9"/>
<polygon points="164.2,397.1 168.12,389.61 172.58,396.01" fill="#33e033"/>
<text x="145.8" y="537.1" font-size="17" text-anchor="start" fill="#33e033" word-spacing="1.5">Gas in</text>
<line x1="141.3" y1="531.3" x2="134.09" y2="527.33" stroke="#33e033" stroke-width="1.9"/>
<polygon points="128.4,524.2 136.85,524.4 133.09,531.23" fill="#33e033"/>
<path d="M486,514.8 C486.63,513.83 488.22,510.28 489.8,509 C491.38,507.72 493.75,507.25 495.5,507.1 C497.25,506.95 498.85,507.3 500.3,508.1 C501.75,508.9 502.75,510.95 504.2,511.9 C505.65,512.85 507.57,513.8 509,513.8 C510.43,513.8 511.53,511.73 512.8,511.9 C514.07,512.07 515,514.17 516.6,514.8 C518.2,515.43 520.48,515.55 522.4,515.7 C524.32,515.85 526.18,516.65 528.1,515.7 C530.02,514.75 532.3,510.63 533.9,510 C535.5,509.37 536.1,511.65 537.7,511.9 C539.3,512.15 542.05,512.78 543.5,511.5 C544.95,510.22 545.45,511.8 546.4,504.2 C547.35,496.6 548.08,478.68 549.2,465.9 C550.32,453.12 551.82,436.77 553.1,427.5 C554.38,418.23 555.78,413.48 556.9,410.3 C558.02,407.12 558.68,409.68 559.8,408.4 C560.92,407.12 562.17,403.08 563.6,402.6 C565.03,402.12 567.28,404.53 568.4,405.5 C569.52,406.47 569.5,403.13 570.3,408.4 C571.1,413.67 572.08,427.52 573.2,437.1 C574.32,446.68 575.57,457.27 577,465.9 C578.43,474.53 580.2,482.2 581.8,488.9 C583.4,495.6 584.83,502.1 586.6,506.1 C588.37,510.1 590.8,511.93 592.4,512.9 C594,513.87 594.93,511.58 596.2,511.9 C597.47,512.22 598.57,514.48 600,514.8 C601.43,515.12 603.52,514.12 604.8,513.8 C606.08,513.48 606.9,517.7 607.7,512.9 C608.5,508.1 608.8,496.03 609.6,485 C610.4,473.97 611.53,455.32 612.5,446.7 C613.47,438.08 614.55,436.07 615.4,433.3 C616.25,430.53 616.75,430.8 617.6,430.1 C618.45,429.4 619.37,430.07 620.5,429.1 C621.63,428.13 623.1,424.3 624.4,424.3 C625.7,424.3 627.17,427.48 628.3,429.1 C629.43,430.72 630.23,429 631.2,434 C632.17,439 633.13,450.72 634.1,459.1 C635.07,467.48 636.03,478 637,484.3 C637.97,490.6 639.1,494.47 639.9,496.9 C640.7,499.33 641,496.47 641.8,498.9 C642.6,501.33 643.57,508.77 644.7,511.5 C645.83,514.23 647.15,515.15 648.6,515.3 C650.05,515.45 651.78,512.65 653.4,512.4 C655.02,512.15 656.35,513.95 658.3,513.8 C660.25,513.65 663.32,512.37 665.1,511.5 C666.88,510.63 667.87,514.42 669,508.6 C670.13,502.78 670.93,486.13 671.9,476.6 C672.87,467.07 673.68,459.48 674.8,451.4 C675.92,443.32 677.32,434.08 678.6,428.1 C679.88,422.12 681.2,417.43 682.5,415.5 C683.8,413.57 685.1,416.33 686.4,416.5 C687.7,416.67 689.02,415.85 690.3,416.5 C691.58,417.15 693.13,416.85 694.1,420.4 C695.07,423.95 695.12,429.4 696.1,437.8 C697.08,446.2 698.72,461.43 700,470.8 C701.28,480.17 702.18,488.03 703.8,494 C705.42,499.97 707.92,503.37 709.7,506.6 C711.48,509.83 712.73,512.92 714.5,513.4 C716.27,513.88 718.52,509.67 720.3,509.5 C722.08,509.33 723.42,511.75 725.2,512.4 C726.98,513.05 729.07,513.48 731,513.4 C732.93,513.32 735.03,511.73 736.8,511.9 C738.57,512.07 739.98,514.22 741.6,514.4 C743.22,514.58 744.52,513.23 746.5,513 C748.48,512.77 752.33,513 753.5,513" fill="none" stroke="#dc1616" stroke-width="2.4" stroke-linejoin="round" stroke-linecap="round"/>
<rect x="485.5" y="327.2" width="269" height="217.8" fill="none" stroke="#0a0a0a" stroke-width="2.2"/>
<line x1="485.5" y1="545" x2="489.8" y2="545" stroke="#0a0a0a" stroke-width="2.0"/>
<line x1="485.5" y1="501.44" x2="489.8" y2="501.44" stroke="#0a0a0a" stroke-width="2.0"/>
<line x1="485.5" y1="457.88" x2="489.8" y2="457.88" stroke="#0a0a0a" stroke-width="2.0"/>
<line x1="485.5" y1="414.32" x2="489.8" y2="414.32" stroke="#0a0a0a" stroke-width="2.0"/>
<line x1="485.5" y1="370.76" x2="489.8" y2="370.76" stroke="#0a0a0a" stroke-width="2.0"/>
<line x1="485.5" y1="327.2" x2="489.8" y2="327.2" stroke="#0a0a0a" stroke-width="2.0"/>
<line x1="485.5" y1="523.22" x2="487.9" y2="523.22" stroke="#0a0a0a" stroke-width="2.0"/>
<line x1="485.5" y1="479.66" x2="487.9" y2="479.66" stroke="#0a0a0a" stroke-width="2.0"/>
<line x1="485.5" y1="436.1" x2="487.9" y2="436.1" stroke="#0a0a0a" stroke-width="2.0"/>
<line x1="485.5" y1="392.54" x2="487.9" y2="392.54" stroke="#0a0a0a" stroke-width="2.0"/>
<line x1="485.5" y1="348.98" x2="487.9" y2="348.98" stroke="#0a0a0a" stroke-width="2.0"/>
<text x="480" y="550.3" font-size="15.5" text-anchor="end" fill="#0a0a0a">3.510</text>
<text x="480" y="506.74" font-size="15.5" text-anchor="end" fill="#0a0a0a">3.511</text>
<text x="480" y="463.18" font-size="15.5" text-anchor="end" fill="#0a0a0a">3.512</text>
<text x="480" y="419.62" font-size="15.5" text-anchor="end" fill="#0a0a0a">3.513</text>
<text x="480" y="376.06" font-size="15.5" text-anchor="end" fill="#0a0a0a">3.514</text>
<text x="480" y="332.5" font-size="15.5" text-anchor="end" fill="#0a0a0a">3.515</text>
<line x1="485.5" y1="545" x2="485.5" y2="540.7" stroke="#0a0a0a" stroke-width="2.0"/>
<line x1="545.28" y1="545" x2="545.28" y2="540.7" stroke="#0a0a0a" stroke-width="2.0"/>
<line x1="605.06" y1="545" x2="605.06" y2="540.7" stroke="#0a0a0a" stroke-width="2.0"/>
<line x1="664.83" y1="545" x2="664.83" y2="540.7" stroke="#0a0a0a" stroke-width="2.0"/>
<line x1="724.61" y1="545" x2="724.61" y2="540.7" stroke="#0a0a0a" stroke-width="2.0"/>
<line x1="515.39" y1="545" x2="515.39" y2="542.6" stroke="#0a0a0a" stroke-width="2.0"/>
<line x1="575.17" y1="545" x2="575.17" y2="542.6" stroke="#0a0a0a" stroke-width="2.0"/>
<line x1="634.94" y1="545" x2="634.94" y2="542.6" stroke="#0a0a0a" stroke-width="2.0"/>
<line x1="694.72" y1="545" x2="694.72" y2="542.6" stroke="#0a0a0a" stroke-width="2.0"/>
<line x1="754.5" y1="545" x2="754.5" y2="542.6" stroke="#0a0a0a" stroke-width="2.0"/>
<text x="485.5" y="562.2" font-size="15.5" text-anchor="middle" fill="#0a0a0a">0</text>
<text x="545.28" y="562.2" font-size="15.5" text-anchor="middle" fill="#0a0a0a">100</text>
<text x="605.06" y="562.2" font-size="15.5" text-anchor="middle" fill="#0a0a0a">200</text>
<text x="664.83" y="562.2" font-size="15.5" text-anchor="middle" fill="#0a0a0a">300</text>
<text x="724.61" y="562.2" font-size="15.5" text-anchor="middle" fill="#0a0a0a">400</text>
<text x="620" y="588" font-size="19" text-anchor="middle" fill="#0a0a0a">Time (s)</text>
<text transform="translate(430,430) rotate(-90)" font-size="19" text-anchor="middle" fill="#0a0a0a">Resistance (<tspan font-weight="normal">Ω</tspan>)</text>
<rect x="637.2" y="331.9" width="113.9" height="19.9" fill="#fff" stroke="#222" stroke-width="1.3"/>
<line x1="638.1" y1="341.6" x2="671.5" y2="341.6" stroke="#dc1616" stroke-width="2.2"/>
<text x="673.4" y="347" font-size="14.2" text-anchor="start" fill="#0a0a0a">M / P 5 wt%</text>
<text x="588.4" y="395.7" font-size="17" text-anchor="start" fill="#dc1616" word-spacing="1.5">Gas out</text>
<line x1="583" y1="394.6" x2="576.88" y2="399" stroke="#dc1616" stroke-width="1.9"/>
<polygon points="571.6,402.8 575.41,395.25 579.97,401.59" fill="#dc1616"/>
<text x="561.5" y="527.6" font-size="17" text-anchor="start" fill="#dc1616" word-spacing="1.5">Gas in</text>
<line x1="557.6" y1="522.4" x2="549.88" y2="518.77" stroke="#dc1616" stroke-width="1.9"/>
<polygon points="544,516 552.45,515.66 549.13,522.72" fill="#dc1616"/>
<line x1="109.85" y1="782.24" x2="109.85" y2="780.35" stroke="#0a0a0a" stroke-width="1.8"/>
<line x1="103.85" y1="780.35" x2="115.85" y2="780.35" stroke="#0a0a0a" stroke-width="1.9"/>
<rect x="98.95" y="783.19" width="21.8" height="51.61" fill="#ffffa0" stroke="#0a0a0a" stroke-width="1.9"/>
<line x1="135.4" y1="662.3" x2="135.4" y2="651.27" stroke="#0a0a0a" stroke-width="1.8"/>
<line x1="129.4" y1="651.27" x2="141.4" y2="651.27" stroke="#0a0a0a" stroke-width="1.9"/>
<rect x="124.55" y="663.25" width="21.7" height="171.55" fill="url(#hatch)" stroke="#0a0a0a" stroke-width="1.9"/>
<line x1="177.5" y1="784.71" x2="177.5" y2="783.11" stroke="#0a0a0a" stroke-width="1.8"/>
<line x1="171.5" y1="783.11" x2="183.5" y2="783.11" stroke="#0a0a0a" stroke-width="1.9"/>
<rect x="166.75" y="785.66" width="21.5" height="49.14" fill="#ffffa0" stroke="#0a0a0a" stroke-width="1.9"/>
<line x1="202.65" y1="709.93" x2="202.65" y2="706.73" stroke="#0a0a0a" stroke-width="1.8"/>
<line x1="196.65" y1="706.73" x2="208.65" y2="706.73" stroke="#0a0a0a" stroke-width="1.9"/>
<rect x="191.95" y="710.88" width="21.4" height="123.92" fill="url(#hatch)" stroke="#0a0a0a" stroke-width="1.9"/>
<line x1="244.4" y1="786.59" x2="244.4" y2="785.14" stroke="#0a0a0a" stroke-width="1.8"/>
<line x1="238.4" y1="785.14" x2="250.4" y2="785.14" stroke="#0a0a0a" stroke-width="1.9"/>
<rect x="233.95" y="787.54" width="20.9" height="47.26" fill="#ffffa0" stroke="#0a0a0a" stroke-width="1.9"/>
<line x1="270.4" y1="723" x2="270.4" y2="721.83" stroke="#0a0a0a" stroke-width="1.8"/>
<line x1="264.4" y1="721.83" x2="276.4" y2="721.83" stroke="#0a0a0a" stroke-width="1.9"/>
<rect x="259.55" y="723.95" width="21.7" height="110.85" fill="url(#hatch)" stroke="#0a0a0a" stroke-width="1.9"/>
<line x1="312" y1="791.82" x2="312" y2="789.21" stroke="#0a0a0a" stroke-width="1.8"/>
<line x1="306" y1="789.21" x2="318" y2="789.21" stroke="#0a0a0a" stroke-width="1.9"/>
<rect x="301.75" y="792.77" width="20.5" height="42.03" fill="#ffffa0" stroke="#0a0a0a" stroke-width="1.9"/>
<line x1="337.65" y1="740.13" x2="337.65" y2="730.55" stroke="#0a0a0a" stroke-width="1.8"/>
<line x1="331.65" y1="730.55" x2="343.65" y2="730.55" stroke="#0a0a0a" stroke-width="1.9"/>
<rect x="327.45" y="741.08" width="20.4" height="93.72" fill="url(#hatch)" stroke="#0a0a0a" stroke-width="1.9"/>
<rect x="89.2" y="617" width="268.6" height="217.8" fill="none" stroke="#0a0a0a" stroke-width="2.2"/>
<line x1="89.2" y1="834.8" x2="93.5" y2="834.8" stroke="#0a0a0a" stroke-width="2.0"/>
<line x1="89.2" y1="805.76" x2="93.5" y2="805.76" stroke="#0a0a0a" stroke-width="2.0"/>
<line x1="89.2" y1="776.72" x2="93.5" y2="776.72" stroke="#0a0a0a" stroke-width="2.0"/>
<line x1="89.2" y1="747.68" x2="93.5" y2="747.68" stroke="#0a0a0a" stroke-width="2.0"/>
<line x1="89.2" y1="718.64" x2="93.5" y2="718.64" stroke="#0a0a0a" stroke-width="2.0"/>
<line x1="89.2" y1="689.6" x2="93.5" y2="689.6" stroke="#0a0a0a" stroke-width="2.0"/>
<line x1="89.2" y1="660.56" x2="93.5" y2="660.56" stroke="#0a0a0a" stroke-width="2.0"/>
<line x1="89.2" y1="631.52" x2="93.5" y2="631.52" stroke="#0a0a0a" stroke-width="2.0"/>
<line x1="89.2" y1="820.28" x2="91.6" y2="820.28" stroke="#0a0a0a" stroke-width="2.0"/>
<line x1="89.2" y1="791.24" x2="91.6" y2="791.24" stroke="#0a0a0a" stroke-width="2.0"/>
<line x1="89.2" y1="762.2" x2="91.6" y2="762.2" stroke="#0a0a0a" stroke-width="2.0"/>
<line x1="89.2" y1="733.16" x2="91.6" y2="733.16" stroke="#0a0a0a" stroke-width="2.0"/>
<line x1="89.2" y1="704.12" x2="91.6" y2="704.12" stroke="#0a0a0a" stroke-width="2.0"/>
<line x1="89.2" y1="675.08" x2="91.6" y2="675.08" stroke="#0a0a0a" stroke-width="2.0"/>
<line x1="89.2" y1="646.04" x2="91.6" y2="646.04" stroke="#0a0a0a" stroke-width="2.0"/>
<line x1="89.2" y1="617" x2="91.6" y2="617" stroke="#0a0a0a" stroke-width="2.0"/>
<text x="83.7" y="840.1" font-size="15.5" text-anchor="end" fill="#0a0a0a">0</text>
<text x="83.7" y="811.06" font-size="15.5" text-anchor="end" fill="#0a0a0a">10</text>
<text x="83.7" y="782.02" font-size="15.5" text-anchor="end" fill="#0a0a0a">20</text>
<text x="83.7" y="752.98" font-size="15.5" text-anchor="end" fill="#0a0a0a">30</text>
<text x="83.7" y="723.94" font-size="15.5" text-anchor="end" fill="#0a0a0a">40</text>
<text x="83.7" y="694.9" font-size="15.5" text-anchor="end" fill="#0a0a0a">50</text>
<text x="83.7" y="665.86" font-size="15.5" text-anchor="end" fill="#0a0a0a">60</text>
<text x="83.7" y="636.82" font-size="15.5" text-anchor="end" fill="#0a0a0a">70</text>
<text transform="translate(36.2,725.5) rotate(-90)" font-size="19" text-anchor="middle" fill="#0a0a0a">Time (s)</text>
<rect x="217.8" y="620.4" width="137.2" height="41.5" fill="#fff" stroke="#333" stroke-width="1.2"/>
<rect x="220.5" y="623.2" width="33" height="16.6" fill="#ffffa0" stroke="#0a0a0a" stroke-width="1.6"/>
<rect x="220.5" y="642.8" width="33" height="16.4" fill="url(#hatch)" stroke="#0a0a0a" stroke-width="1.6"/>
<text x="259.4" y="636.2" font-size="15" text-anchor="start" fill="#0a0a0a">Response time</text>
<text x="259.4" y="655.5" font-size="15" text-anchor="start" fill="#0a0a0a">Recovery time</text>
<text transform="translate(126.28,859) rotate(-20)" font-size="15.5" text-anchor="middle" dominant-baseline="central" fill="#0a0a0a">MWCNT</text>
<text transform="translate(193.43,859) rotate(-20)" font-size="15.5" text-anchor="middle" dominant-baseline="central" fill="#0a0a0a">M / P 0.5 wt%</text>
<text transform="translate(260.57,859) rotate(-20)" font-size="15.5" text-anchor="middle" dominant-baseline="central" fill="#0a0a0a">M / P 1 wt%</text>
<text transform="translate(327.73,859) rotate(-20)" font-size="15.5" text-anchor="middle" dominant-baseline="central" fill="#0a0a0a">M / P 5 wt%</text>
<line x1="518.95" y1="660.23" x2="518.95" y2="646.28" stroke="#0a0a0a" stroke-width="1.8"/>
<line x1="513.95" y1="646.28" x2="523.95" y2="646.28" stroke="#0a0a0a" stroke-width="1.9"/>
<rect x="500.15" y="661.18" width="37.6" height="172.52" fill="#ffb0b0" stroke="#0a0a0a" stroke-width="1.9"/>
<line x1="585.85" y1="719.8" x2="585.85" y2="704.45" stroke="#0a0a0a" stroke-width="1.8"/>
<line x1="580.85" y1="704.45" x2="590.85" y2="704.45" stroke="#0a0a0a" stroke-width="1.9"/>
<rect x="566.15" y="720.75" width="39.4" height="112.95" fill="#ffb0b0" stroke="#0a0a0a" stroke-width="1.9"/>
<line x1="653.05" y1="754.95" x2="653.05" y2="744.7" stroke="#0a0a0a" stroke-width="1.8"/>
<line x1="648.05" y1="744.7" x2="658.05" y2="744.7" stroke="#0a0a0a" stroke-width="1.9"/>
<rect x="633.85" y="755.9" width="38.4" height="77.8" fill="#ffb0b0" stroke="#0a0a0a" stroke-width="1.9"/>
<line x1="720.45" y1="818.1" x2="720.45" y2="816.8" stroke="#0a0a0a" stroke-width="1.8"/>
<line x1="715.45" y1="816.8" x2="725.45" y2="816.8" stroke="#0a0a0a" stroke-width="1.9"/>
<rect x="700.95" y="819.05" width="39" height="14.65" fill="#ffb0b0" stroke="#0a0a0a" stroke-width="1.9"/>
<rect x="487" y="679.9" width="264.70000000000005" height="3.9" fill="#fff"/>
<rect x="485" y="617.3" width="268.7" height="216.4" fill="none" stroke="#0a0a0a" stroke-width="2.2"/>
<rect x="483.5" y="680.2" width="3" height="3.4" fill="#fff"/>
<line x1="481.4" y1="681.6" x2="489.2" y2="678.2" stroke="#0a0a0a" stroke-width="2.2" stroke-linecap="round"/>
<line x1="481.4" y1="685.6" x2="489.2" y2="682.2" stroke="#0a0a0a" stroke-width="2.2" stroke-linecap="round"/>
<rect x="752.2" y="680.2" width="3" height="3.4" fill="#fff"/>
<line x1="750.3" y1="681.6" x2="757.6" y2="678.9" stroke="#0a0a0a" stroke-width="2.2" stroke-linecap="round"/>
<line x1="750.3" y1="685.6" x2="757.6" y2="682.9" stroke="#0a0a0a" stroke-width="2.2" stroke-linecap="round"/>
<line x1="485" y1="681.7" x2="489.3" y2="681.7" stroke="#0a0a0a" stroke-width="2.0"/>
<line x1="485" y1="660.23" x2="489.3" y2="660.23" stroke="#0a0a0a" stroke-width="2.0"/>
<line x1="485" y1="638.77" x2="489.3" y2="638.77" stroke="#0a0a0a" stroke-width="2.0"/>
<line x1="485" y1="617.3" x2="489.3" y2="617.3" stroke="#0a0a0a" stroke-width="2.0"/>
<line x1="485" y1="670.97" x2="487.4" y2="670.97" stroke="#0a0a0a" stroke-width="2.0"/>
<line x1="485" y1="649.5" x2="487.4" y2="649.5" stroke="#0a0a0a" stroke-width="2.0"/>
<line x1="485" y1="628.03" x2="487.4" y2="628.03" stroke="#0a0a0a" stroke-width="2.0"/>
<line x1="485" y1="833.7" x2="489.3" y2="833.7" stroke="#0a0a0a" stroke-width="2.0"/>
<line x1="485" y1="783.7" x2="489.3" y2="783.7" stroke="#0a0a0a" stroke-width="2.0"/>
<line x1="485" y1="733.7" x2="489.3" y2="733.7" stroke="#0a0a0a" stroke-width="2.0"/>
<line x1="485" y1="808.7" x2="487.4" y2="808.7" stroke="#0a0a0a" stroke-width="2.0"/>
<line x1="485" y1="758.7" x2="487.4" y2="758.7" stroke="#0a0a0a" stroke-width="2.0"/>
<line x1="485" y1="708.7" x2="487.4" y2="708.7" stroke="#0a0a0a" stroke-width="2.0"/>
<text x="479.8" y="622.6" font-size="15.5" text-anchor="end" fill="#0a0a0a">8</text>
<text x="479.8" y="644.07" font-size="15.5" text-anchor="end" fill="#0a0a0a">7</text>
<text x="479.8" y="665.53" font-size="15.5" text-anchor="end" fill="#0a0a0a">6</text>
<text x="479.8" y="685" font-size="15.5" text-anchor="end" fill="#0a0a0a">5</text>
<text x="479.8" y="839" font-size="15.5" text-anchor="end" fill="#0a0a0a">0.0</text>
<text x="479.8" y="789" font-size="15.5" text-anchor="end" fill="#0a0a0a">0.2</text>
<text x="479.8" y="739" font-size="15.5" text-anchor="end" fill="#0a0a0a">0.4</text>
<text transform="translate(444,724.7) rotate(-90)" font-size="19" text-anchor="middle" fill="#0a0a0a">Response (%)</text>
<text transform="translate(522.09,859) rotate(-20)" font-size="15.5" text-anchor="middle" dominant-baseline="central" fill="#0a0a0a">MWCNT</text>
<text transform="translate(589.26,859) rotate(-20)" font-size="15.5" text-anchor="middle" dominant-baseline="central" fill="#0a0a0a">M / P 0.5 wt%</text>
<text transform="translate(656.44,859) rotate(-20)" font-size="15.5" text-anchor="middle" dominant-baseline="central" fill="#0a0a0a">M / P 1 wt%</text>
<text transform="translate(723.61,859) rotate(-20)" font-size="15.5" text-anchor="middle" dominant-baseline="central" fill="#0a0a0a">M / P 5 wt%</text>
</svg>
</body></html>
